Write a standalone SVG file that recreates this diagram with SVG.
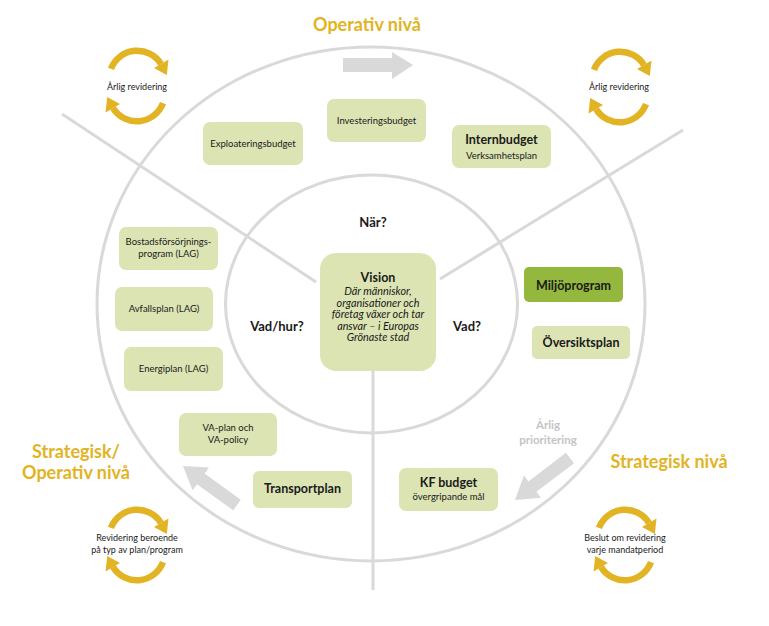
<svg xmlns="http://www.w3.org/2000/svg" xmlns:xlink="http://www.w3.org/1999/xlink" width="769" height="626" viewBox="0 0 769 626">
<style>
.ring{fill:none;stroke:#d9d9d9;stroke-width:3}
.box{fill:#dce4b4}
.dark{fill:#93b83d}
.t{font-family:Lato,"Open Sans",sans-serif;fill:#1a1a1a;text-anchor:middle}
.s{font-size:9.5px}
.b{font-size:12.5px;font-weight:bold}
.q{font-size:13px;font-weight:bold}
.it{font-size:10.8px;font-style:italic}
.gold{font-family:Lato,"Open Sans",sans-serif;fill:#e2b323;font-size:18px;font-weight:bold;text-anchor:middle}
.gray{font-family:Lato,"Open Sans",sans-serif;fill:#c4c4c4;font-size:11.5px;font-weight:bold;text-anchor:middle}
.ic{font-family:Lato,"Open Sans",sans-serif;fill:#1a1a1a;font-size:9px;text-anchor:middle}
.arr{fill:#d9d9d9}
.cy{fill:none;stroke:#e2b323;stroke-width:6.5}
.cyh{fill:#e2b323}
</style>
<defs>
<g id="cyc">
<path class="cy" d="M -26 -17.2 A 28 28 0 0 1 24 -22"/>
<polygon class="cyh" points="31.5,-26.5 17,-18 29.8,-11"/>
<path class="cy" d="M 26 17.2 A 28 28 0 0 1 -24 22"/>
<polygon class="cyh" points="-31.5,26.5 -17,18 -29.8,11"/>
</g>
</defs>
<rect width="769" height="626" fill="#ffffff"/>
<g id="connectors">
<ellipse class="ring" cx="371" cy="304" rx="274" ry="257"/>
<ellipse class="ring" cx="371.5" cy="304" rx="146" ry="129"/>
<line class="ring" x1="62" y1="114" x2="316" y2="282"/>
<line class="ring" x1="683" y1="130" x2="440" y2="279"/>
<line class="ring" x1="373" y1="371" x2="373" y2="590"/>
<polygon class="arr" points="343,58 392,58 392,52 413,65 392,79 392,72 343,72"/>
<polygon class="arr" points="566,452.8 528.4,481.4 523.9,475.5 515,500 540.9,497.7 536.4,491.8 574,463.2"/>
<polygon class="arr" points="240.8,499.7 204.6,473.6 209,467.5 183,466 192.6,490.3 197,484.2 233.2,510.3"/>
</g>
<g id="titles">
<text class="gold" x="367" y="31">Operativ nivå</text>
<text class="gold" x="76" y="458">Strategisk/</text>
<text class="gold" x="76" y="479">Operativ nivå</text>
<text class="gold" x="669" y="468">Strategisk nivå</text>
<text class="gray" x="548" y="429">Årlig</text>
<text class="gray" x="548" y="444">prioritering</text>
<text class="t q" x="373" y="227">När?</text>
<text class="t q" x="277" y="331">Vad/hur?</text>
<text class="t q" x="467" y="331">Vad?</text>
</g>
<g id="cycle-tl">
<use xlink:href="#cyc" x="137" y="86"/>
<text class="ic" x="137" y="90">Årlig revidering</text>
</g>
<g id="cycle-tr">
<use xlink:href="#cyc" x="620" y="87"/>
<text class="ic" x="619" y="90">Årlig revidering</text>
</g>
<g id="cycle-bl">
<use xlink:href="#cyc" x="137" y="545"/>
<text class="ic" x="137" y="541">Revidering beroende</text>
<text class="ic" x="137" y="553">på typ av plan/program</text>
</g>
<g id="cycle-br">
<use xlink:href="#cyc" x="625" y="545"/>
<text class="ic" x="625" y="541">Beslut om revidering</text>
<text class="ic" x="625" y="553">varje mandatperiod</text>
</g>
<g id="vision">
<rect class="box" x="320" y="253" width="116" height="118" rx="16"/>
<text class="t b" x="378" y="282">Vision</text>
<text class="t it" x="378" y="295">Där människor,</text>
<text class="t it" x="378" y="306.5">organisationer och</text>
<text class="t it" x="378" y="318">företag växer och tar</text>
<text class="t it" x="378" y="329.5">ansvar – i Europas</text>
<text class="t it" x="378" y="341">Grönaste stad</text>
</g>
<g id="exploateringsbudget">
<rect class="box" x="203" y="122" width="100" height="43" rx="7"/>
<text class="t s" x="253" y="147">Exploateringsbudget</text>
</g>
<g id="investeringsbudget">
<rect class="box" x="327" y="99" width="99" height="43" rx="7"/>
<text class="t s" x="376.5" y="124">Investeringsbudget</text>
</g>
<g id="internbudget">
<rect class="box" x="452" y="125" width="99" height="43" rx="7"/>
<text class="t b" x="501.5" y="144">Internbudget</text>
<text class="t s" x="501.5" y="159">Verksamhetsplan</text>
</g>
<g id="bostad">
<rect class="box" x="119" y="227" width="99" height="43" rx="7"/>
<text class="t s" x="168.5" y="245">Bostadsförsörjnings-</text>
<text class="t s" x="168.5" y="257">program (LAG)</text>
</g>
<g id="avfallsplan">
<rect class="box" x="115" y="287" width="98" height="44" rx="7"/>
<text class="t s" x="164" y="312">Avfallsplan (LAG)</text>
</g>
<g id="energiplan">
<rect class="box" x="124" y="347" width="99" height="44" rx="7"/>
<text class="t s" x="173.5" y="372">Energiplan (LAG)</text>
</g>
<g id="vaplan">
<rect class="box" x="179" y="413" width="98" height="43" rx="7"/>
<text class="t s" x="228" y="431">VA-plan och</text>
<text class="t s" x="228" y="443">VA-policy</text>
</g>
<g id="transportplan">
<rect class="box" x="253" y="471" width="99" height="37" rx="6"/>
<text class="t b" x="302.5" y="493">Transportplan</text>
</g>
<g id="miljoprogram">
<rect class="dark" x="524" y="267" width="99" height="35" rx="5"/>
<text class="t b" x="573.5" y="290">Miljöprogram</text>
</g>
<g id="oversiktsplan">
<rect class="box" x="532" y="326" width="98" height="33" rx="5"/>
<text class="t b" x="581" y="347">Översiktsplan</text>
</g>
<g id="kfbudget">
<rect class="box" x="399" y="468" width="99" height="43" rx="7"/>
<text class="t b" x="448.5" y="487">KF budget</text>
<text class="t s" x="448.5" y="500">övergripande mål</text>
</g>
</svg>
